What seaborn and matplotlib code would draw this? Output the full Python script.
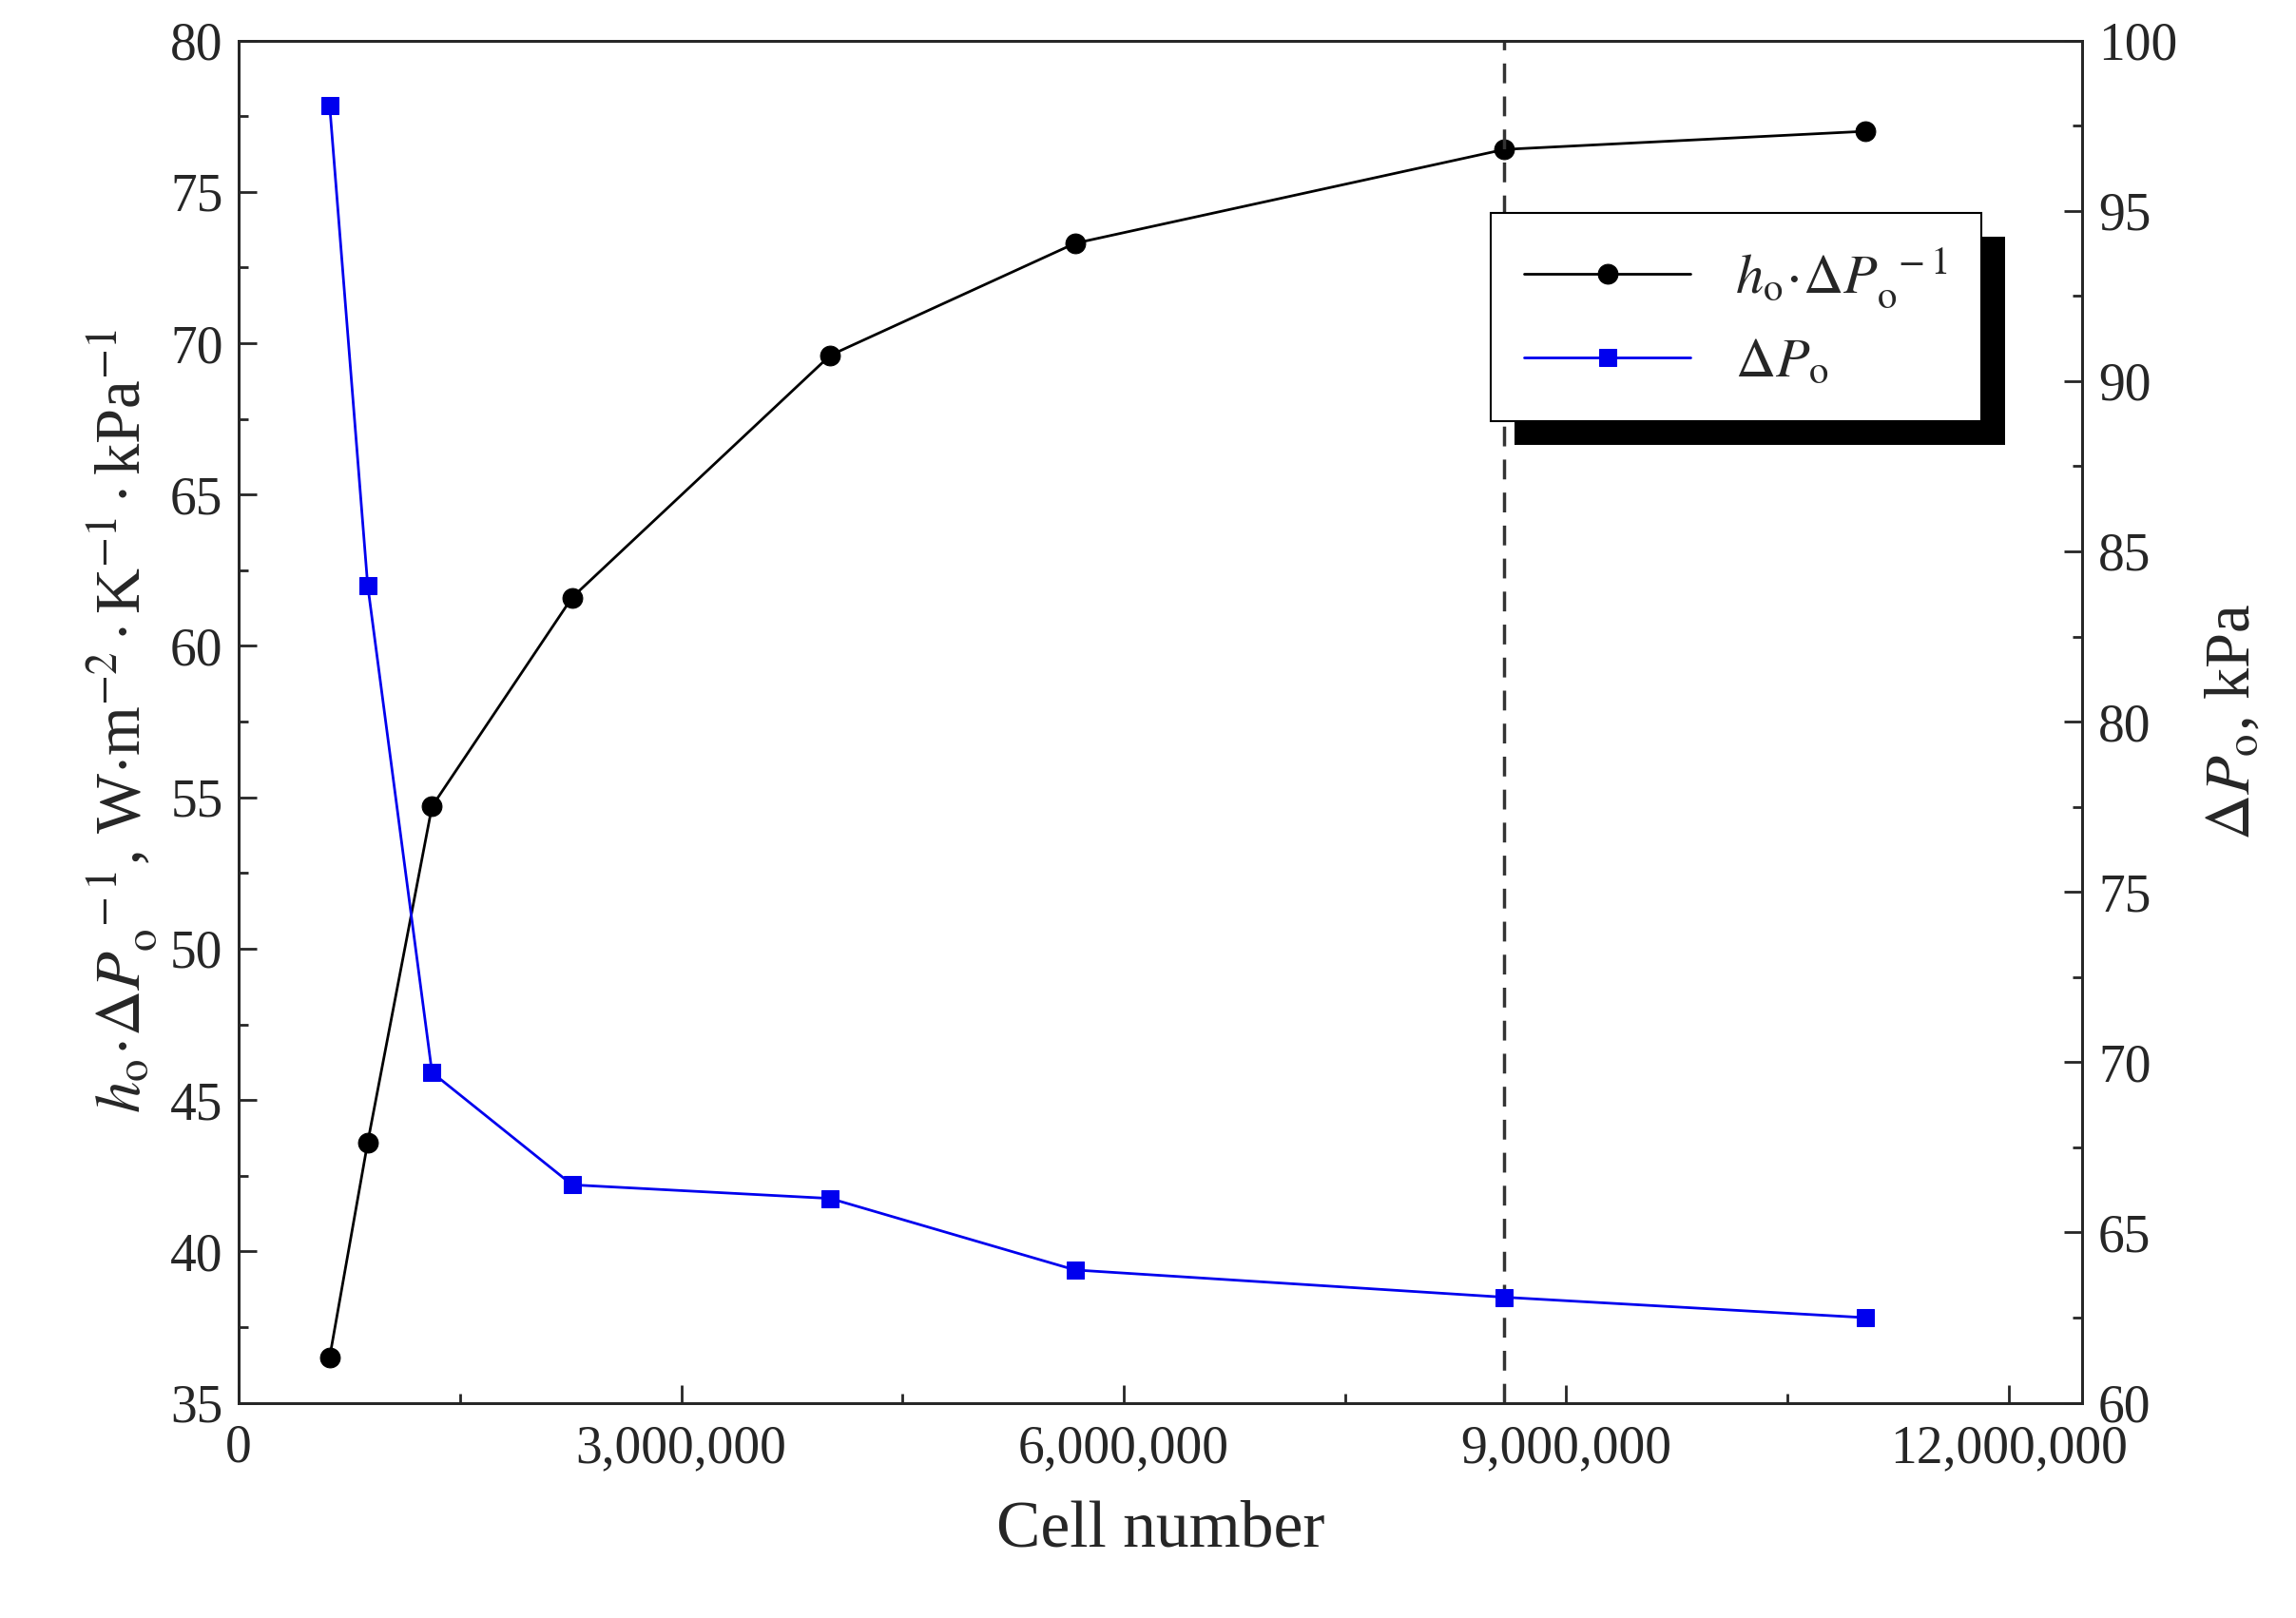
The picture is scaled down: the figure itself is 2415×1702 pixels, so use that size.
import numpy as np
import matplotlib
matplotlib.use("Agg")
import matplotlib.pyplot as plt
import matplotlib.patheffects as pe
import seaborn as sns
from matplotlib.ticker import FuncFormatter, MultipleLocator

cells = [616000, 874000, 1310000, 2260000, 4010000, 5670000, 8580000, 11030000]
h_over_dp = [36.5, 43.6, 54.7, 61.6, 69.6, 73.3, 76.4, 77.0]
dp = [98.1, 84.0, 69.7, 66.4, 66.0, 63.9, 63.1, 62.5]
chosen_cells = 8580000

sns.set_theme(style="ticks")
plt.rcParams["font.family"] = ["Liberation Serif", "DejaVu Serif"]
plt.rcParams["mathtext.fontset"] = "stix"

fig = plt.figure(figsize=(24.15, 17.02), dpi=100)
ax = fig.add_axes([0.104, 0.133, 0.803, 0.842])
ax2 = ax.twinx()

sns.lineplot(x=cells, y=h_over_dp, ax=ax, color="black", marker="o", markersize=15,
             linewidth=2, markeredgecolor="black", label=r"$h_\mathrm{o}\!\cdot\!\Delta P_\mathrm{o}^{\ -1}$", legend=False)
sns.lineplot(x=cells, y=dp, ax=ax2, color="#0000ee", marker="s", markersize=13,
             linewidth=2, markeredgecolor="#0000ee", label=r"$\Delta P_\mathrm{o}$", legend=False)
ax.axvline(chosen_cells, color="#333333", linestyle="--", linewidth=2.5, dashes=(6, 4))

ax.set_xlim(0, 12500000)
ax.set_ylim(35, 80)
ax2.set_ylim(60, 100)
ax.xaxis.set_major_locator(MultipleLocator(3000000))
ax.xaxis.set_minor_locator(MultipleLocator(1500000))
ax.xaxis.set_major_formatter(FuncFormatter(lambda v, p: f"{int(v):,}"))
ax.yaxis.set_major_locator(MultipleLocator(5))
ax.yaxis.set_minor_locator(MultipleLocator(2.5))
ax2.yaxis.set_major_locator(MultipleLocator(5))
ax2.yaxis.set_minor_locator(MultipleLocator(2.5))

for a in (ax, ax2):
    a.tick_params(which="major", direction="in", length=14, width=2, labelsize=40, pad=12)
    a.tick_params(which="minor", direction="in", length=7, width=2)
    for s in a.spines.values():
        s.set_linewidth(2)
ax.tick_params(axis="x", which="both", top=False, pad=16)

ax.set_xlabel("Cell number", fontsize=50, labelpad=20)
ax.set_ylabel(r"$h_\mathrm{o}\!\cdot\!\Delta P_\mathrm{o}^{\ -1}$, W$\cdot$m$^{-2}\cdot$K$^{-1}\cdot$kPa$^{-1}$",
              fontsize=48, labelpad=8)
ax2.set_ylabel(r"$\Delta P_\mathrm{o}$, kPa", fontsize=48, labelpad=20)

h1, l1 = ax.get_legend_handles_labels()
h2, l2 = ax2.get_legend_handles_labels()
leg = ax2.legend(h1 + h2, l1 + l2, loc="upper right", bbox_to_anchor=(0.96, 0.894),
                 fontsize=42, frameon=True, fancybox=False, framealpha=1,
                 edgecolor="black", handlelength=3, borderpad=0.6)
leg.get_frame().set_linewidth(1.5)
leg.get_frame().set_path_effects([
    pe.SimplePatchShadow(offset=(18, -18), shadow_rgbFace="black", alpha=1),
    pe.Normal()])

fig.savefig("out.png", dpi=100)
